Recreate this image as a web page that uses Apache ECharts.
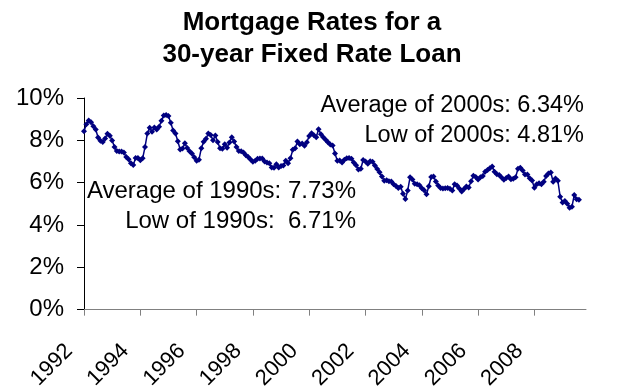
<!DOCTYPE html>
<html>
<head>
<meta charset="utf-8">
<script src="https://cdn.jsdelivr.net/npm/echarts@6/dist/echarts.min.js"></script>
<style>
  html, body { margin: 0; padding: 0; background: #fff; }
  #chart { width: 626px; height: 392px; }
</style>
</head>
<body>
<div id="chart"></div>
<script>
// Monthly average 30-year fixed mortgage rates (%), one array per year
const rate1992 = [8.43, 8.76, 8.94, 8.85, 8.67, 8.51, 8.13, 7.98, 7.92, 8.09, 8.31, 8.22];
const rate1993 = [7.99, 7.68, 7.50, 7.47, 7.47, 7.42, 7.21, 7.11, 6.92, 6.83, 7.16, 7.17];
const rate1994 = [7.06, 7.15, 7.68, 8.32, 8.60, 8.40, 8.61, 8.51, 8.64, 8.93, 9.17, 9.20];
const rate1995 = [9.15, 8.83, 8.46, 8.32, 7.96, 7.57, 7.61, 7.86, 7.64, 7.48, 7.38, 7.20];
const rate1996 = [7.03, 7.08, 7.62, 7.93, 8.07, 8.32, 8.25, 8.00, 8.23, 7.92, 7.62, 7.60];
const rate1997 = [7.82, 7.65, 7.90, 8.14, 7.94, 7.69, 7.50, 7.48, 7.43, 7.29, 7.21, 7.10];
const rate1998 = [6.99, 7.04, 7.13, 7.14, 7.14, 7.00, 6.95, 6.92, 6.72, 6.71, 6.87, 6.72];
const rate1999 = [6.79, 6.81, 7.04, 6.92, 7.15, 7.55, 7.63, 7.94, 7.82, 7.85, 7.74, 7.91];
const rate2000 = [8.21, 8.33, 8.24, 8.15, 8.52, 8.29, 8.15, 8.03, 7.91, 7.80, 7.75, 7.38];
const rate2001 = [7.03, 7.05, 6.95, 7.08, 7.15, 7.16, 7.13, 6.95, 6.82, 6.62, 6.66, 7.07];
const rate2002 = [7.00, 6.89, 7.01, 6.99, 6.81, 6.65, 6.49, 6.29, 6.09, 6.11, 6.07, 6.05];
const rate2003 = [5.92, 5.84, 5.75, 5.81, 5.48, 5.23, 5.63, 6.26, 6.15, 5.95, 5.93, 5.88];
const rate2004 = [5.74, 5.64, 5.45, 5.83, 6.27, 6.29, 6.06, 5.87, 5.75, 5.72, 5.73, 5.75];
const rate2005 = [5.71, 5.63, 5.93, 5.86, 5.72, 5.58, 5.70, 5.82, 5.77, 6.07, 6.33, 6.27];
const rate2006 = [6.15, 6.25, 6.32, 6.51, 6.60, 6.68, 6.76, 6.52, 6.40, 6.36, 6.24, 6.14];
const rate2007 = [6.22, 6.29, 6.16, 6.18, 6.26, 6.66, 6.70, 6.57, 6.38, 6.38, 6.21, 6.10];
const rate2008 = [5.76, 5.92, 5.97, 5.92, 6.04, 6.32, 6.43, 6.48, 6.04, 6.20, 6.09, 5.33];
const rate2009 = [5.06, 5.13, 5.00, 4.81, 4.86, 5.42, 5.22, 5.19];

// Axis span: January 1992 through November 2009
const firstYear = 1992;
const lastYear = 2009;
const lastMonth = 11;

// Text notes for each decade
const noteLines1990s = ['Average of 1990s: 7.73%', 'Low of 1990s:  6.71%'];
const noteLines2000s = ['Average of 2000s: 6.34%', 'Low of 2000s: 4.81%'];

const rates = [].concat(rate1992, rate1993, rate1994, rate1995, rate1996, rate1997,
  rate1998, rate1999, rate2000, rate2001, rate2002, rate2003, rate2004, rate2005,
  rate2006, rate2007, rate2008, rate2009);

const months = [];
for (let y = firstYear; y <= lastYear; y++) {
  const end = y === lastYear ? lastMonth : 12;
  for (let m = 1; m <= end; m++) months.push(y + '-' + (m < 10 ? '0' + m : m));
}

const FONT = "'Liberation Sans', Arial, sans-serif";
const chart = echarts.init(document.getElementById('chart'), null, { renderer: 'canvas' });

// Two right-aligned lines of note text, 30px apart
function noteText(lines, right, midY, size) {
  return lines.map((t, i) => ({
    type: 'text',
    right: 626 - right,
    top: midY + i * 30 - size / 2,
    style: { text: t, font: size + 'px ' + FONT, fill: '#000', textAlign: 'right' }
  }));
}

chart.setOption({
  backgroundColor: '#fff',
  animation: false,
  title: {
    text: 'Mortgage Rates for a\n30-year Fixed Rate Loan',
    left: 307,
    textAlign: 'center',
    top: 2,
    textStyle: { fontFamily: FONT, fontSize: 26, fontWeight: 'bold', color: '#000', lineHeight: 32 }
  },
  grid: { left: 84, right: 40, top: 98, bottom: 81, containLabel: false },
  xAxis: {
    type: 'category',
    data: months,
    boundaryGap: false,
    axisLine: { lineStyle: { color: '#808080', width: 1 } },
    axisTick: { interval: 23, length: 6, lineStyle: { color: '#808080' } },
    axisLabel: {
      interval: 23,
      rotate: 45,
      margin: 23,
      padding: [0, 21, 0, 0],
      fontFamily: FONT,
      fontSize: 22,
      color: '#000',
      formatter: v => v.slice(0, 4)
    },
    splitLine: { show: false }
  },
  yAxis: {
    type: 'value',
    min: 0,
    max: 10,
    interval: 2,
    axisLine: { show: true, lineStyle: { color: '#000', width: 1 } },
    axisTick: { show: true, length: 7, lineStyle: { color: '#000' } },
    axisLabel: {
      margin: 20,
      fontFamily: FONT,
      fontSize: 24,
      color: '#000',
      formatter: '{value}%'
    },
    splitLine: { show: false }
  },
  series: [{
    type: 'line',
    data: rates,
    symbol: 'diamond',
    symbolSize: 6,
    showAllSymbol: true,
    itemStyle: { color: '#000080' },
    lineStyle: { color: '#000080', width: 1.5 }
  }],
  graphic: [].concat(noteText(noteLines1990s, 356, 191, 24), noteText(noteLines2000s, 584, 105, 23.5))
});
</script>
</body>
</html>
